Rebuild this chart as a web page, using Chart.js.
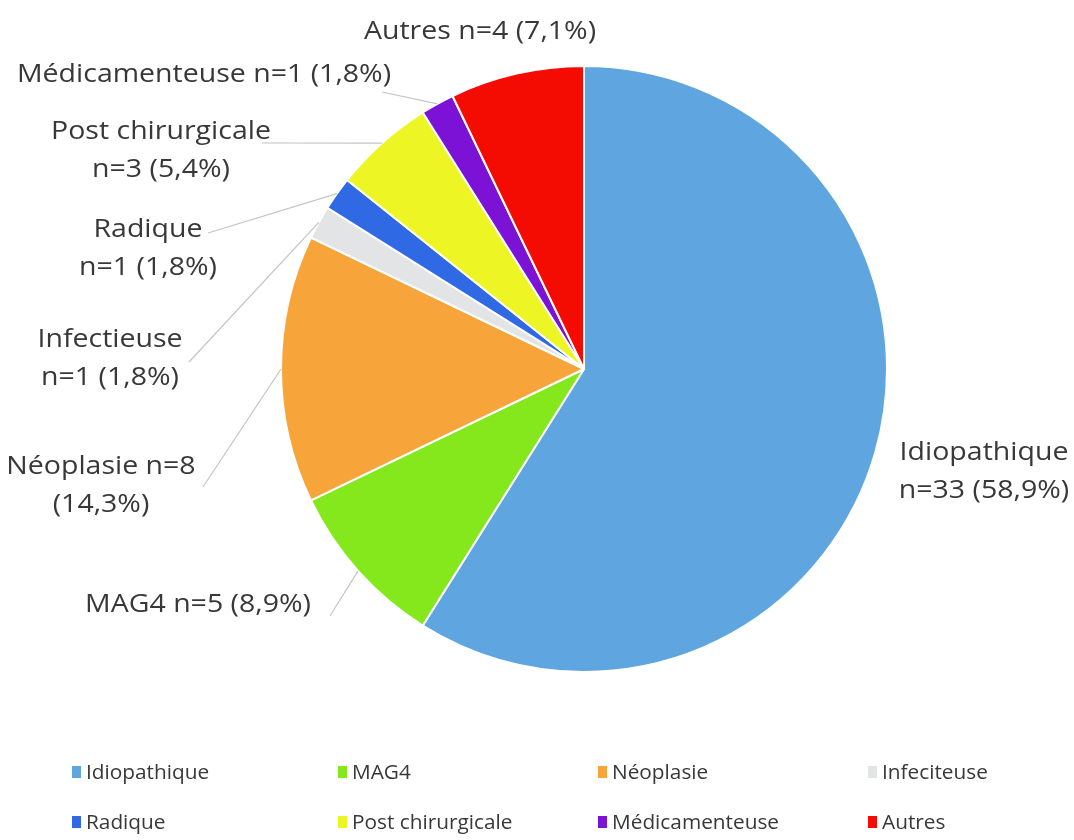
<!DOCTYPE html>
<html>
<head>
<meta charset="utf-8">
<script src="https://cdn.jsdelivr.net/npm/chart.js@4/dist/chart.umd.min.js"></script>
<style>
  html, body { margin: 0; padding: 0; background: #fff; }
</style>
</head>
<body>
<canvas id="pie-chart" width="1074" height="840"></canvas>
<script>
// Data
const categories = ['Idiopathique', 'MAG4', 'Néoplasie', 'Infectieuse', 'Radique', 'Post chirurgicale', 'Médicamenteuse', 'Autres'];
const legendLabels = ['Idiopathique', 'MAG4', 'Néoplasie', 'Infeciteuse', 'Radique', 'Post chirurgicale', 'Médicamenteuse', 'Autres'];
const counts = [33, 5, 8, 1, 1, 3, 1, 4];
const colors = ['#5fa5df', '#84e81c', '#f7a53a', '#e2e4e6', '#2f6ae4', '#eef524', '#7b12d6', '#f40c02'];

// Label placement (text centre, first line), wrapping and leader start
const labelLayout = [
  { x: 984, y: 453, wrap: 'two', lead: null },
  { x: 198, y: 605, wrap: 'one', lead: [330, 616] },
  { x: 101, y: 467, wrap: 'split', lead: [203, 487] },
  { x: 110, y: 340, wrap: 'two', lead: [189, 362] },
  { x: 148, y: 230, wrap: 'two', lead: [208, 233] },
  { x: 161, y: 132, wrap: 'two', lead: [262, 143] },
  { x: 204, y: 75, wrap: 'one', lead: [382, 92] },
  { x: 480, y: 32, wrap: 'one', lead: null },
];

const legendCols = [72, 338, 598, 868];
const legendRows = [773, 823];

const total = counts.reduce((a, b) => a + b, 0);
const TEXT = '#383838';
const FONT = '"Open Sans", sans-serif';

function pctText(n) {
  return (n / total * 100).toFixed(1).replace('.', ',') + '%';
}

function labelLines(i) {
  const name = categories[i];
  const n = counts[i];
  const p = pctText(n);
  const wrap = labelLayout[i].wrap;
  if (wrap === 'two') return [name, 'n=' + n + ' (' + p + ')'];
  if (wrap === 'split') return [name + ' n=' + n, '(' + p + ')'];
  return [name + ' n=' + n + ' (' + p + ')'];
}

// the source font is wider than Open Sans, so stretch a little
function wideText(ctx, text, x, y, sx) {
  ctx.save();
  ctx.translate(x, y);
  ctx.scale(sx, 1);
  ctx.fillText(text, 0, 0);
  ctx.restore();
}

// Leader lines, data labels and legend
const labelPlugin = {
  id: 'sliceLabels',
  afterDraw(chart) {
    const ctx = chart.ctx;
    const arcs = chart.getDatasetMeta(0).data;
    ctx.save();

    // leader lines
    ctx.strokeStyle = '#c4c4c4';
    ctx.lineWidth = 1.2;
    arcs.forEach((arc, i) => {
      const lead = labelLayout[i].lead;
      if (!lead) return;
      const { x, y, startAngle, endAngle, outerRadius } = arc.getProps(['x', 'y', 'startAngle', 'endAngle', 'outerRadius'], true);
      const mid = (startAngle + endAngle) / 2;
      ctx.beginPath();
      ctx.moveTo(lead[0], lead[1]);
      ctx.lineTo(x + Math.cos(mid) * outerRadius, y + Math.sin(mid) * outerRadius);
      ctx.stroke();
    });

    // text labels
    ctx.fillStyle = TEXT;
    ctx.font = '25px ' + FONT;
    ctx.textAlign = 'center';
    ctx.textBaseline = 'middle';
    arcs.forEach((arc, i) => {
      const pos = labelLayout[i];
      labelLines(i).forEach((line, k) => {
        wideText(ctx, line, pos.x, pos.y + k * 38, 1.14);
      });
    });

    // legend
    ctx.font = '20px ' + FONT;
    ctx.textAlign = 'left';
    legendLabels.forEach((lab, i) => {
      const cx = legendCols[i % 4];
      const cy = legendRows[Math.floor(i / 4)];
      ctx.fillStyle = colors[i];
      ctx.fillRect(cx, cy - 7, 9, 12);
      ctx.fillStyle = TEXT;
      wideText(ctx, lab, cx + 14, cy, 1.04);
    });

    ctx.restore();
  },
};

new Chart(document.getElementById('pie-chart'), {
  type: 'pie',
  data: {
    labels: categories,
    datasets: [
      {
        data: counts,
        backgroundColor: colors,
        borderColor: '#ffffff',
        borderWidth: 2,
      },
    ],
  },
  options: {
    responsive: false,
    animation: false,
    layout: {
      padding: { left: 280, right: 186, top: 65, bottom: 167 },
    },
    plugins: {
      legend: { display: false },
      tooltip: { enabled: false },
    },
  },
  plugins: [labelPlugin],
});
</script>
</body>
</html>
